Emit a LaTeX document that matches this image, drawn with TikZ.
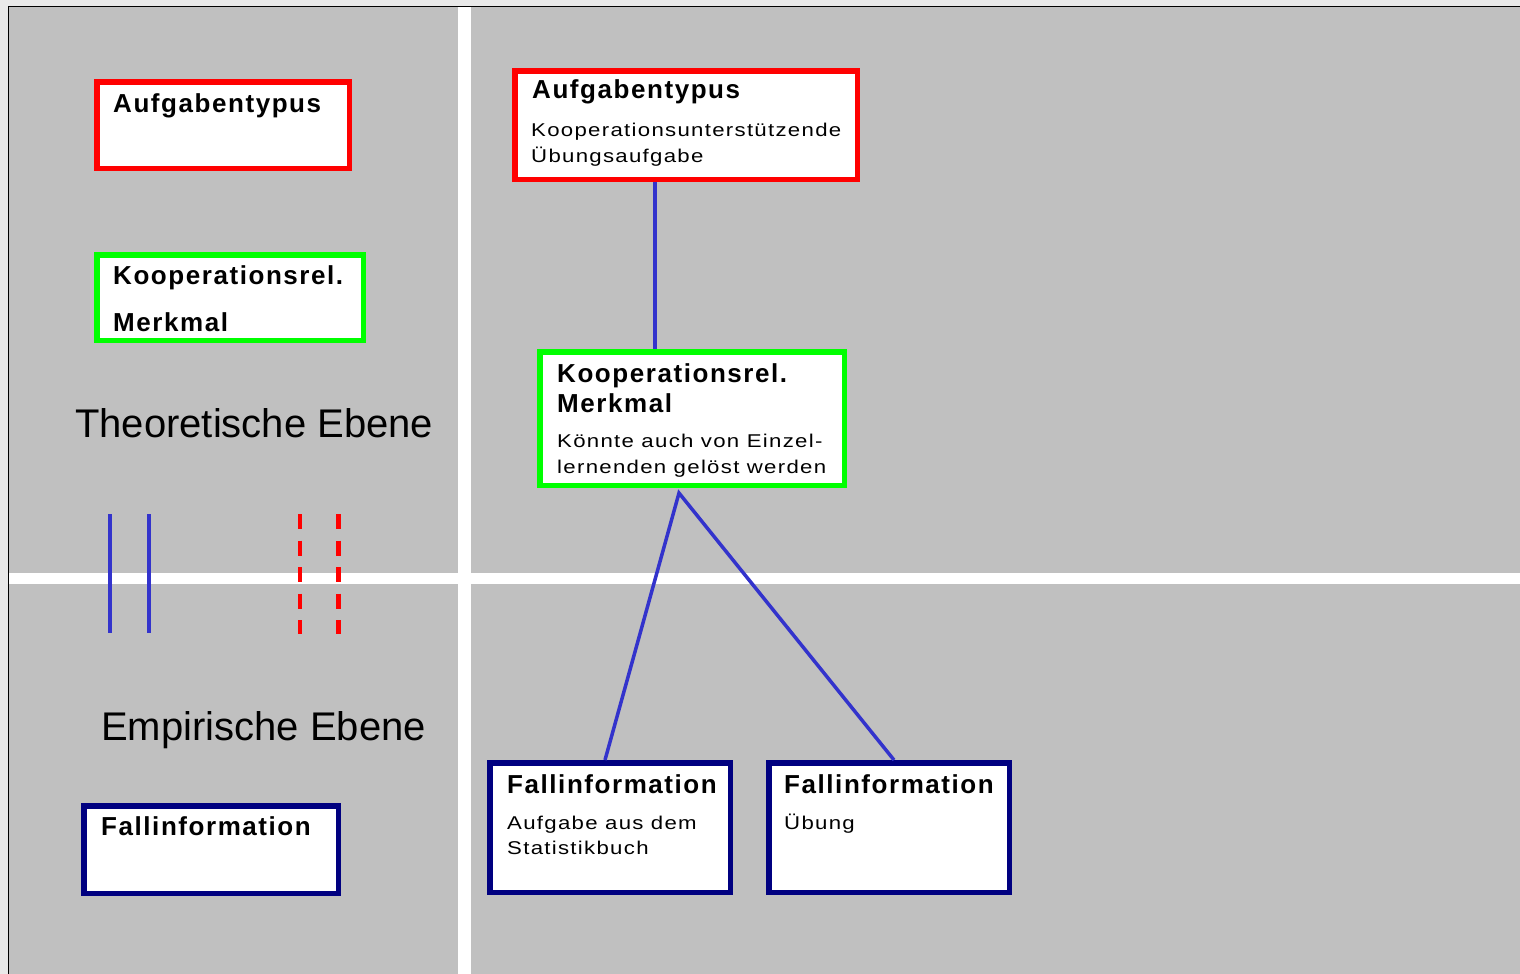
\documentclass[tikz,border=0pt]{standalone}
\usepackage{fontspec}
\setmainfont{Liberation Sans}
\newfontfamily\headfont[LetterSpace=6]{Liberation Sans}
\newfontfamily\bodyfont[FakeStretch=1.2,LetterSpace=7]{Liberation Sans}
\definecolor{pagegray}{RGB}{233,233,233}
\definecolor{panelgray}{RGB}{192,192,192}
\definecolor{linkblue}{RGB}{51,51,204}
\definecolor{navyframe}{RGB}{0,0,128}
\definecolor{greenframe}{RGB}{0,255,0}
\definecolor{redframe}{RGB}{255,0,0}

\begin{document}
\begin{tikzpicture}[x=1pt,y=-1pt,
  box/.style={draw,fill=white,line width=5.5pt,inner sep=0pt},
  redbox/.style={box,draw=redframe},
  greenbox/.style={box,draw=greenframe},
  navybox/.style={box,draw=navyframe},
  head/.style={anchor=base west,inner sep=0pt,font=\headfont\bfseries\fontsize{26}{30}\selectfont},
  body/.style={anchor=base west,inner sep=0pt,font=\bodyfont\fontsize{18.5}{22}\selectfont},
  plane/.style={anchor=base west,inner sep=0pt,font=\fontsize{40}{48}\selectfont},
  link/.style={draw=linkblue,line width=3.5pt,line join=miter}]

\useasboundingbox (0,0) rectangle (1520,974);

% page, panel and frame lines
\fill[pagegray] (0,0) rectangle (1520,974);
\fill[panelgray] (8,6) rectangle (1520,974);
\draw[line width=1.5pt] (8.5,974) -- (8.5,6.5) -- (1520,6.5);

% white bands splitting the panel
\fill[white] (458,7.25) rectangle (471,974);
\fill[white] (9.25,573) rectangle (1520,584);

% legend column
\node[redbox,minimum width=252.5pt,minimum height=86.5pt] (lr) at (223,125) {};
\node[head] (lrt) at ([shift={(19,33)}]lr.north west) {Aufgabentypus};

\node[greenbox,minimum width=266.5pt,minimum height=85.5pt] (lg) at (230,297.5) {};
\node[head] (lgt1) at ([shift={(19,32)}]lg.north west) {Kooperationsrel.};
\node[head] (lgt2) at ([shift={(19,79)}]lg.north west) {Merkmal};

\node[plane] (theo) at (75,437) {Theoretische Ebene};
\node[plane] (emp) at (101,740) {Empirische Ebene};

\node[navybox,minimum width=254.5pt,minimum height=87.5pt] (ln) at (211,849.5) {};
\node[head] (lnt) at ([shift={(20,32)}]ln.north west) {Fallinformation};

% line samples between the two levels
\draw[linkblue,line width=4pt] (109.5,514) -- (109.5,633);
\draw[linkblue,line width=4pt] (148.5,514) -- (148.5,633);
\draw[redframe,line width=4.5pt,dash pattern=on 15pt off 11.5pt] (300,514) -- (300,634);
\draw[redframe,line width=4.5pt,dash pattern=on 15pt off 11.5pt] (338.5,514) -- (338.5,634);

% example tree
\node[redbox,minimum width=342.5pt,minimum height=108.5pt] (rr) at (686,125) {};
\node[head] (rrt) at ([shift={(20,31)}]rr.north west) {Aufgabentypus};
\node[body] (rrb1) at ([shift={(19,68)}]rr.north west) {Kooperationsunterstützende};
\node[body] (rrb2) at ([shift={(19,94)}]rr.north west) {Übungsaufgabe};

\node[greenbox,minimum width=304.5pt,minimum height=133.5pt] (rg) at (692,418.5) {};
\node[head] (rgt1) at ([shift={(20,33)}]rg.north west) {Kooperationsrel.};
\node[head] (rgt2) at ([shift={(20,63)}]rg.north west) {Merkmal};
\node[body] (rgb1) at ([shift={(20,98)}]rg.north west) {Könnte auch von Einzel-};
\node[body] (rgb2) at ([shift={(20,124)}]rg.north west) {lernenden gelöst werden};

\node[navybox,minimum width=240.5pt,minimum height=129.5pt] (fa) at (610,827.5) {};
\node[head] (fat) at ([shift={(20,33)}]fa.north west) {Fallinformation};
\node[body] (fab1) at ([shift={(20,69)}]fa.north west) {Aufgabe aus dem};
\node[body] (fab2) at ([shift={(20,94)}]fa.north west) {Statistikbuch};

\node[navybox,minimum width=240.5pt,minimum height=129.5pt] (fb) at (889,827.5) {};
\node[head] (fbt) at ([shift={(18,33)}]fb.north west) {Fallinformation};
\node[body] (fbb1) at ([shift={(18,69)}]fb.north west) {Übung};

% connectors
\coordinate (fork) at ([shift={(142,5)}]rg.south west);
\draw[link] ([shift={(143,0)}]rr.south west) -- ([shift={(118,0)}]rg.north west);
\draw[link] ([shift={(118,0)}]fa.north west) -- (fork) -- ([shift={(128,0)}]fb.north west);

\end{tikzpicture}
\end{document}
